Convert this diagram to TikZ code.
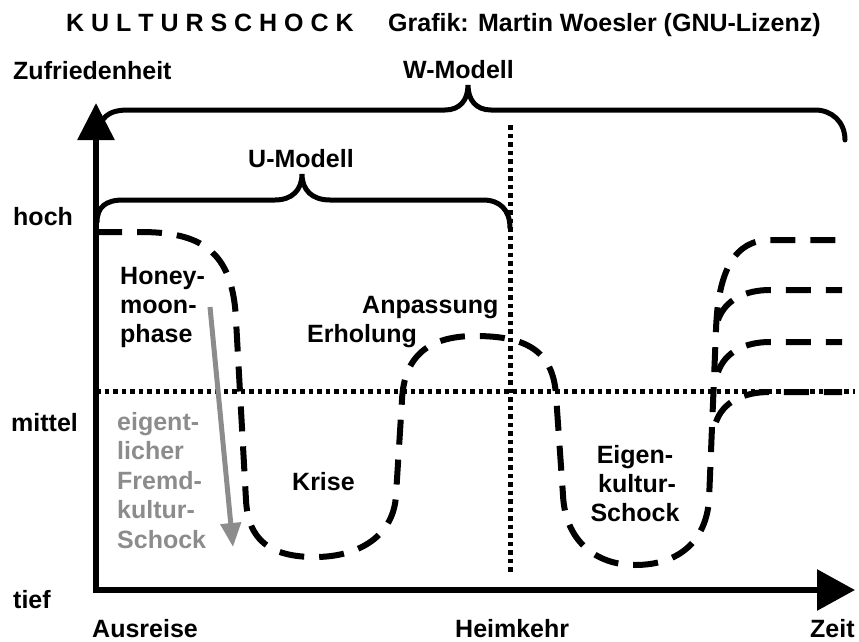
\documentclass[tikz,border=0pt]{standalone}
\usepackage{fontspec}
\setmainfont{Liberation Sans}
\usetikzlibrary{arrows.meta}
\definecolor{shockgray}{RGB}{140,140,140}
\begin{document}
\begin{tikzpicture}[x=1pt,y=-1pt,
  lbl/.style={font=\fontsize{25}{29}\selectfont\bfseries, inner sep=0pt, anchor=base west},
  lblc/.style={lbl, anchor=base},
  axisline/.style={line width=6pt, line join=miter},
  bracel/.style={line width=5pt, line cap=round},
  dotline/.style={line width=5pt, dash pattern=on 4.5pt off 4pt},
  dashcurve/.style={line width=6pt, dash pattern=on 25pt off 15pt},
  grayarrow/.style={line width=5pt, draw=shockgray, -{Triangle[width=20pt,length=24pt]}}]
\useasboundingbox (0,0) rectangle (859,642);

% coordinates
\coordinate (origin) at (96,590);
\coordinate (ytip) at (96,103);
\coordinate (xtip) at (855,590);
\coordinate (vtop) at (510,125);
\coordinate (vbot) at (510,575);
\coordinate (hl) at (96,391);
\coordinate (hr) at (855,391);

% dotted guide lines
\draw[dotline] (vtop) -- (vbot);
\draw[dotline] (hl) -- (hr);

% dashed satisfaction curve
\draw[dashcurve] (97,232) -- (140,232) .. controls (200,232) and (233,250) .. (236,320)
  -- (246,500) .. controls (248,540) and (270,557) .. (315,557)
  .. controls (360,557) and (394,535) .. (396,495)
  -- (402,400) .. controls (404,355) and (430,336) .. (475,336)
  .. controls (525,336) and (553,350) .. (556,395)
  -- (563,495) .. controls (565,540) and (595,565) .. (635,565)
  .. controls (680,565) and (706,540) .. (709,500)
  -- (716,330) .. controls (718,270) and (735,240) .. (770,240) -- (842,240);
\draw[dashcurve] (718,320) .. controls (725,300) and (745,290) .. (770,290) -- (842,290);
\draw[dashcurve] (718,372) .. controls (725,352) and (745,342) .. (770,342) -- (842,342);
\draw[dashcurve] (716,422) .. controls (723,402) and (743,392) .. (770,392) -- (842,392);

% axes
\draw[axisline, {Triangle[width=36pt,length=37pt]}-{Triangle[width=40pt,length=38pt]}] (ytip) -- (origin) -- (xtip);

% W brace
\draw[bracel] (99,135) .. controls (99,118) and (108,110) .. (128,110) -- (445,110)
  .. controls (460,110) and (468,100) .. (468,85)
  .. controls (468,100) and (476,110) .. (491,110) -- (815,110)
  .. controls (832,110) and (845,122) .. (845,140);
% U brace
\draw[bracel] (97,222) .. controls (97,207) and (106,200) .. (123,200) -- (275,200)
  .. controls (292,200) and (302,190) .. (302,174)
  .. controls (302,190) and (312,200) .. (330,200) -- (483,200)
  .. controls (500,200) and (510,210) .. (510,228);

% gray arrow
\coordinate (ga) at (210,307);
\coordinate (gb) at (233,547);
\draw[grayarrow] (ga) -- (gb);

% texts
\node[lbl] (title) at (66,32) {K U L T U R S C H O C K};
\node[lbl] (credit) at (388,32) {Grafik: Martin Woesler (GNU-Lizenz)};
\node[lbl] (yl) at (13,80) {Zufriedenheit};
\node[lbl] (wm) at (403,78) {W-Modell};
\node[lbl] (um) at (248,167) {U-Modell};
\node[lbl] (hoch) at (13,225) {hoch};
\node[lbl] (mittel) at (11,431) {mittel};
\node[lbl] (tief) at (13,608) {tief};
\node[lbl] (aus) at (92,637) {Ausreise};
\node[lbl] (heim) at (455,637) {Heimkehr};
\node[lbl] (zeit) at (810,637) {Zeit};
\node[lbl] (hm1) at (120,284) {Honey-};
\node[lbl] (hm2) at (120,313) {moon-};
\node[lbl] (hm3) at (120,342) {phase};
\node[lbl] (anp) at (362,313) {Anpassung};
\node[lbl] (erh) at (307,342) {Erholung};
\node[lbl] (kr) at (292,490) {Krise};
\node[lbl, text=shockgray] (g1) at (117,430) {eigent-};
\node[lbl, text=shockgray] (g2) at (117,459.5) {licher};
\node[lbl, text=shockgray] (g3) at (117,489) {Fremd-};
\node[lbl, text=shockgray] (g4) at (117,518.5) {kultur-};
\node[lbl, text=shockgray] (g5) at (117,548) {Schock};
\node[lblc] (e1) at (635,463) {Eigen-};
\node[lblc] (e2) at (637,492) {kultur-};
\node[lblc] (e3) at (635,521) {Schock};
\end{tikzpicture}
\end{document}
